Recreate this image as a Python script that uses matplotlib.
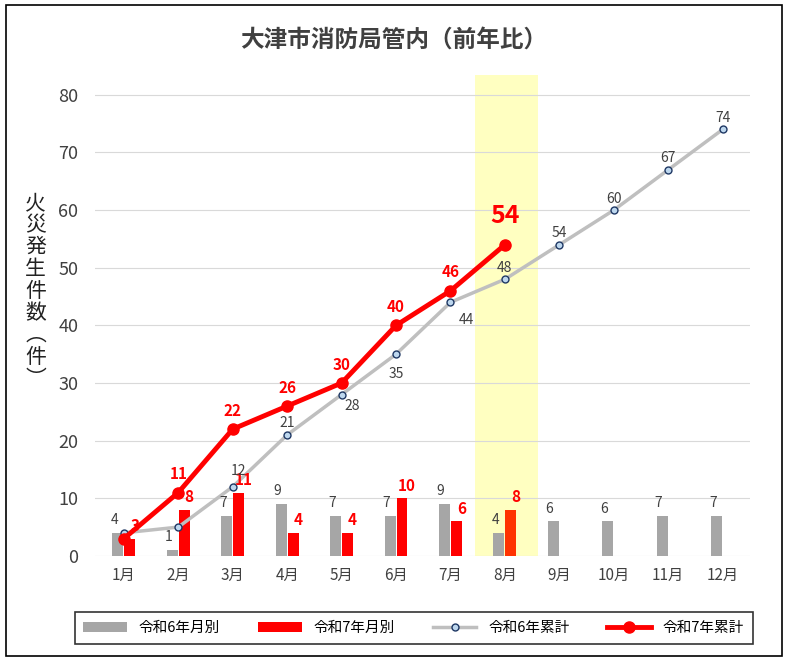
import matplotlib
matplotlib.use("Agg")
import matplotlib.pyplot as plt
import numpy as np
from matplotlib.patches import Rectangle

plt.rcParams['font.family'] = ['Noto Sans CJK JP']

months = ["1月","2月","3月","4月","5月","6月","7月","8月","9月","10月","11月","12月"]
r6_month = [4,1,7,9,7,7,9,4,6,6,7,7]
r7_month = [3,8,11,4,4,10,6,8]
r6_cum = [4,5,12,21,28,35,44,48,54,60,67,74]
r7_cum = [3,11,22,26,30,40,46,54]

fig = plt.figure(figsize=(7.88,6.61), dpi=100)
fig.patches.append(Rectangle((0.008,0.008),0.984,0.984,transform=fig.transFigure,fill=False,ec='black',lw=1.2))
ax = fig.add_axes([0.1206,0.159,0.831,0.728])
x = np.arange(12)
ax.set_xlim(-0.53,11.5); ax.set_ylim(0,83.5)
ax.axvspan(6.45,7.6,color='#FFFF99',alpha=0.6,zorder=0,lw=0)
for v in range(0,90,10):
    ax.axhline(v,color='#D9D9D9',lw=0.8,zorder=0.5)
w=0.2
b1=ax.bar(x-0.11,r6_month,w,color='#A6A6A6',zorder=2)
cols=['#FF0000']*7+['#FF3300']
b2=ax.bar(np.arange(8)+0.11,r7_month,w,color=cols,zorder=2)
l1,=ax.plot(x,r6_cum,color='#BFBFBF',lw=2.5,marker='o',ms=5,mfc='#BDD7EE',mec='#1F3864',mew=1,zorder=3)
l2,=ax.plot(np.arange(8),r7_cum,color='#FF0000',lw=3.5,marker='o',ms=8,zorder=4)
for i,v in enumerate(r6_month):
    ax.text(x[i]-0.18,v+1,str(v),ha='center',va='bottom',fontsize=10,color='#404040',zorder=5)
for i,v in enumerate(r7_month):
    ax.text(i+0.2,v+0.8,str(v),ha='center',va='bottom',fontsize=11,color='#FF0000',fontweight='bold',zorder=5)
offs=[(0,0),(0,0),(0.1,2.8),(0,2),(0.2,-2),(0,-3.5),(0.3,-3),(0,2),(0,2),(0,2),(0,2),(0,2)]
for i,v in enumerate(r6_cum):
    if i in (0,1): continue
    dx,dy=offs[i]
    ax.text(x[i]+dx,v+dy,str(v),ha='center',va='center',fontsize=10,color='#404040',zorder=5)
for i,v in enumerate(r7_cum):
    if i==0: continue
    if i==7:
        ax.text(i,v+5,str(v),ha='center',va='center',fontsize=18,color='#FF0000',fontweight='bold',zorder=6)
    else:
        ax.text(i,v+3.2,str(v),ha='center',va='center',fontsize=11,color='#FF0000',fontweight='bold',zorder=6)
ax.set_xticks(x); ax.set_xticklabels(months,fontsize=11,color='#404040')
ax.set_yticks(range(0,90,10)); ax.tick_params(axis='y',labelsize=13,labelcolor='#404040',length=0,pad=12)
ax.tick_params(axis='x',length=0,pad=8)
for s in ax.spines.values(): s.set_visible(False)
fig.text(0.5,0.94,'大津市消防局管内（前年比）',ha='center',va='center',fontsize=17,color='#404040',fontweight='bold')
fig.text(0.045,0.56,'火\n災\n発\n生\n件\n数\n︵\n件\n︶',ha='center',va='center',fontsize=15,color='#222222',linespacing=1.0)
leg=fig.legend([b1,b2,l1,l2],['令和6年月別','令和7年月別','令和6年累計','令和7年累計'],loc='center',bbox_to_anchor=(0.525,0.05),ncol=4,fontsize=10.5,frameon=True,fancybox=False,edgecolor='black',handlelength=3,columnspacing=2.6,borderpad=0.6)
leg.get_frame().set_linewidth(1.2)
fig.savefig('out.png',dpi=100)
